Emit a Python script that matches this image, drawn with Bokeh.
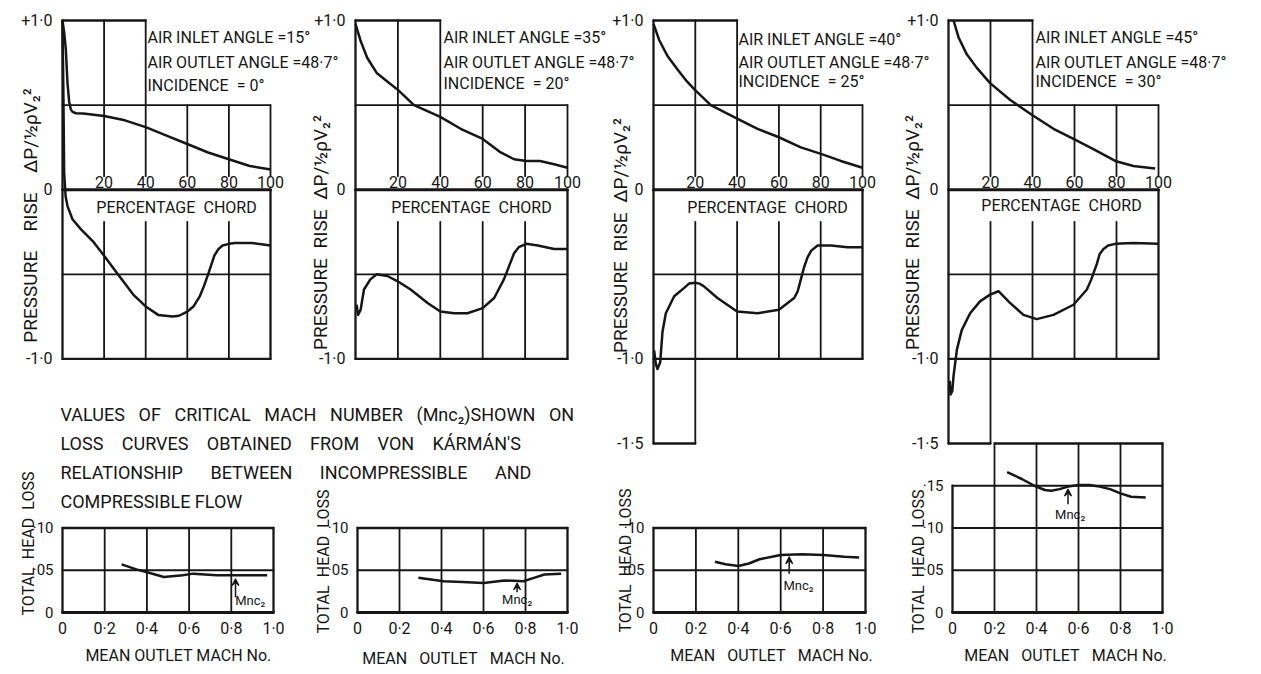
from math import pi
from bokeh.plotting import figure
from bokeh.models import Range1d, LinearAxis, FixedTicker, Label, Arrow, VeeHead
from bokeh.embed import file_html
from bokeh.resources import INLINE

# ---------------- data ----------------
inlet_angle = [15, 35, 40, 45]
outlet_angle = 48.7
incidence = [0, 20, 25, 30]

chord_ticks = [20, 40, 60, 80, 100]
pressure_ticks = [[1.0, 0.0, -1.0], [1.0, 0.0, -1.0],
                  [1.0, 0.0, -1.0, -1.5], [1.0, 0.0, -1.0, -1.5]]
pressure_labels = {1.0: "+1·0", 0.0: "0", -1.0: "-1·0", -1.5: "-1·5"}
mach_ticks = [0.0, 0.2, 0.4, 0.6, 0.8, 1.0]
mach_labels = {0.0: "0", 0.2: "0·2", 0.4: "0·4", 0.6: "0·6", 0.8: "0·8", 1.0: "1·0"}
loss_ticks = [[0.0, 0.05, 0.10], [0.0, 0.05, 0.10], [0.0, 0.05, 0.10],
              [0.0, 0.05, 0.10, 0.15]]
loss_top = [0.10, 0.10, 0.10, 0.20]
loss_labels = {0.0: "0", 0.05: "·05", 0.10: "·10", 0.15: "·15"}

# pressure distribution, upper branch (chord %, dP / 1/2 rho V2^2)
upper_x = [
    [0, 0.8, 1.6, 2.4, 3.2, 4.0, 4.8, 6.5, 10, 20, 30, 40, 50, 60, 70, 80, 90, 100],
    [0, 2.4, 5.5, 10, 15, 20, 27.6, 40, 49.6, 60, 68.5, 74.8, 80.6, 87, 93.7, 100],
    [0, 2.7, 6.7, 11.5, 16, 19.8, 27.4, 40, 49.8, 60, 70.5, 80.5, 89.6, 100],
    [2.4, 4.8, 8.7, 13.5, 19.8, 29.4, 40, 50, 59.5, 69, 79.4, 88, 98.4],
]
upper_y = [
    [1.0, 0.93, 0.83, 0.63, 0.52, 0.475, 0.46, 0.452, 0.45, 0.436, 0.41, 0.37, 0.32, 0.27, 0.22, 0.18, 0.14, 0.12],
    [0.98, 0.88, 0.78, 0.69, 0.64, 0.59, 0.50, 0.43, 0.36, 0.30, 0.22, 0.18, 0.17, 0.17, 0.15, 0.13],
    [0.98, 0.885, 0.79, 0.71, 0.64, 0.59, 0.50, 0.42, 0.36, 0.31, 0.25, 0.21, 0.17, 0.13],
    [1.0, 0.90, 0.80, 0.72, 0.63, 0.53, 0.44, 0.36, 0.30, 0.24, 0.17, 0.14, 0.125],
]
# pressure distribution, lower branch
lower_x = [
    [0, 0.4, 0.8, 1.5, 2.4, 4.8, 8.8, 15, 20, 26, 34, 40, 46, 53, 56, 60, 63, 66, 68, 70, 73, 75, 77, 80, 83, 91, 100],
    [0.5, 1.2, 2.4, 4, 7, 10, 15, 19.7, 26, 34, 40, 46.5, 52.8, 60, 65.4, 70, 72.5, 74.8, 77, 80.6, 86, 93.7, 100],
    [0.3, 1.1, 1.9, 3.2, 4.3, 5.9, 9.9, 14.7, 17, 19.8, 22, 24, 30.6, 40, 49.8, 60, 67.3, 69, 70.5, 72, 73.7, 75.5, 78.5, 85, 92.8, 100],
    [0.6, 1.0, 1.8, 2.4, 4, 6.3, 10.3, 15, 19.8, 23.8, 29.4, 35.7, 42, 50, 59.5, 65.9, 68, 70.6, 72, 73.8, 76, 79.4, 88, 100],
]
lower_y = [
    [1.0, 0.6, 0.1, -0.04, -0.097, -0.175, -0.233, -0.31, -0.39, -0.49, -0.62, -0.69, -0.74, -0.75, -0.745, -0.72, -0.69, -0.63, -0.57, -0.50, -0.39, -0.35, -0.33, -0.32, -0.315, -0.315, -0.33],
    [-0.68, -0.74, -0.71, -0.59, -0.53, -0.50, -0.51, -0.54, -0.59, -0.67, -0.72, -0.73, -0.73, -0.70, -0.64, -0.53, -0.45, -0.375, -0.34, -0.32, -0.33, -0.35, -0.35],
    [-0.95, -1.03, -1.06, -1.02, -0.84, -0.73, -0.63, -0.58, -0.555, -0.55, -0.555, -0.57, -0.64, -0.72, -0.73, -0.71, -0.64, -0.60, -0.53, -0.46, -0.40, -0.36, -0.33, -0.33, -0.34, -0.34],
    [-1.13, -1.21, -1.19, -1.10, -0.945, -0.83, -0.73, -0.66, -0.62, -0.60, -0.67, -0.74, -0.765, -0.74, -0.68, -0.59, -0.53, -0.44, -0.38, -0.35, -0.33, -0.32, -0.315, -0.32],
]
# total head loss vs mean outlet Mach number
loss_x = [
    [0.28, 0.35, 0.41, 0.48, 0.57, 0.62, 0.73, 0.85, 0.97],
    [0.29, 0.41, 0.50, 0.60, 0.70, 0.79, 0.84, 0.89, 0.97],
    [0.29, 0.34, 0.40, 0.45, 0.50, 0.60, 0.70, 0.80, 0.90, 0.97],
    [0.26, 0.33, 0.39, 0.44, 0.47, 0.51, 0.55, 0.60, 0.65, 0.70, 0.75, 0.80, 0.85, 0.92],
]
loss_y = [
    [0.057, 0.051, 0.047, 0.042, 0.044, 0.046, 0.044, 0.044, 0.044],
    [0.041, 0.037, 0.036, 0.035, 0.038, 0.037, 0.041, 0.045, 0.046],
    [0.060, 0.057, 0.055, 0.058, 0.063, 0.068, 0.069, 0.068, 0.066, 0.065],
    [0.166, 0.158, 0.150, 0.145, 0.144, 0.146, 0.149, 0.151, 0.151, 0.149, 0.146, 0.141, 0.137, 0.136],
]
# critical Mach number marks
mnc_x = [0.82, 0.76, 0.64, 0.55]
mnc_tail = [0.018, 0.024, 0.046, 0.128]
mnc_tip = [0.040, 0.035, 0.066, 0.146]

note_lines = [
    "VALUES OF CRITICAL MACH NUMBER (Mnc₂)SHOWN ON",
    "LOSS CURVES OBTAINED FROM VON KÁRMÁN'S",
    "RELATIONSHIP BETWEEN INCOMPRESSIBLE AND",
    "COMPRESSIBLE FLOW",
]

# ---------------- layout (page pixels) ----------------
W, H = 1260, 672
PX0, PX1, PY0, PY1 = 0, W, 0, H
pres_x_px = [(62, 270), (355, 567), (653, 862), (948, 1158)]   # chord 0 / 100
mach_x_px = [(62, 273), (357, 567), (653, 865), (952, 1162)]   # Mach 0 / 1.0
pres_y_px = (20, 443)    # +1.0 / -1.5
loss_y_px = (612, 443)   # 0 / 0.20
note_xy = [(147, 37, 62, 85), (443, 37, 62, 83), (738, 39, 62, 81), (1035, 37, 62, 81)]
ylab_p = [(30, 215), (320, 232), (620, 235), (912, 232)]
ylab_p_gap = ["\u2003", "\u2002", "\u2002", "\u2002"]
ylab_l = [(28, 543), (323, 561), (625, 560), (918, 561)]
xlab_c = [(176, 207), (471, 207), (767, 207), (1061, 205)]
xlab_m = [(178, 655), (463, 658), (771, 655), (1065, 655)]
xlab_m_gap = [" ", "\u2002 ", "\u2002 ", "\u2002 "]
mnc_lab = [(0.89, 0.014), (0.76, 0.015), (0.684, 0.032), (0.56, 0.116)]
note_gap = ["\u2002 ", "\u2003", "\u2003\u2002", " "]

INK = "#161616"
FONT = "Roboto"


def xrange_from(a0, a1, v0, v1):
    k = (v1 - v0) / (a1 - a0)
    return Range1d(start=v0 + (PX0 - a0) * k, end=v0 + (PX1 - a0) * k)


def yrange_from(a0, a1, v0, v1):
    k = (v1 - v0) / (a1 - a0)
    return Range1d(start=v0 + (PY1 - a0) * k, end=v0 + (PY0 - a0) * k)


p = figure(width=W, height=H, x_range=Range1d(PX0, PX1), y_range=Range1d(PY1, PY0),
           x_axis_type=None, y_axis_type=None, toolbar_location=None,
           output_backend="svg", min_border=0, title=None)
p.outline_line_color = None
p.background_fill_color = "white"
p.border_fill_color = "white"

p.extra_y_ranges = {
    "p": yrange_from(pres_y_px[0], pres_y_px[1], 1.0, -1.5),
    "l": yrange_from(loss_y_px[0], loss_y_px[1], 0.0, 0.20),
}
xr = {}
for k in range(4):
    xr[f"c{k}"] = xrange_from(pres_x_px[k][0], pres_x_px[k][1], 0.0, 100.0)
    xr[f"m{k}"] = xrange_from(mach_x_px[k][0], mach_x_px[k][1], 0.0, 1.0)
p.extra_x_ranges = xr


def segs(xname, yname, s, width):
    p.segment([a[0] for a in s], [a[1] for a in s], [a[2] for a in s], [a[3] for a in s],
              x_range_name=xname, y_range_name=yname, line_color=INK,
              line_width=width, line_cap="round")


def label(x, y, text, size, align="left", angle=0.0, xname="default", yname="default"):
    p.add_layout(Label(x=x, y=y, text=text, angle=angle, text_align=align,
                       text_baseline="middle", text_color=INK,
                       text_font=FONT, text_font_size=f"{size}px",
                       x_range_name=xname, y_range_name=yname))


def axis_style(ax, size):
    ax.axis_line_color = None
    ax.major_tick_line_color = None
    ax.minor_tick_line_color = None
    ax.major_label_text_font = FONT
    ax.major_label_text_font_size = f"{size}px"
    ax.major_label_text_color = INK
    return ax


for k in range(4):
    c, m = f"c{k}", f"m{k}"
    deep = pressure_ticks[k][-1]
    # ----- pressure panel frame and grid -----
    frame = [(0, 1.0, 0, deep), (0, 1.0, 40, 1.0), (100, 0.0, 100, -1.0), (0, -1.0, 100, -1.0)]
    grid = [(0, 0.5, 100, 0.5), (0, -0.5, 100, -0.5)]
    for t in chord_ticks:
        top = 1.0 if t <= 40 else 0.5
        grid.append((t, top, t, 0.08))
        if t < 100:
            grid.append((t, -0.19, t, -1.0))
    if deep < -1.0:
        frame += [(0, deep, 20, deep)]
        grid += [(20, -1.0, 20, deep)]
    segs(c, "p", frame, 2.3)
    segs(c, "p", grid, 1.8)
    segs(c, "p", [(0, 0, 100, 0)], 3.0)

    p.line(upper_x[k], upper_y[k], x_range_name=c, y_range_name="p",
           line_color=INK, line_width=2.5, line_join="round")
    p.line(lower_x[k], lower_y[k], x_range_name=c, y_range_name="p",
           line_color=INK, line_width=2.5, line_join="round")

    # pressure axes (tick labels)
    ay = LinearAxis(x_range_name=c, y_range_name="p", fixed_location=0,
                    ticker=FixedTicker(ticks=pressure_ticks[k]),
                    major_label_overrides={t: pressure_labels[t] for t in pressure_ticks[k]},
                    major_label_standoff=4)
    p.add_layout(axis_style(ay, 16), "left")
    ax = LinearAxis(x_range_name=c, y_range_name="p", fixed_location=0,
                    ticker=FixedTicker(ticks=chord_ticks), major_label_standoff=-4)
    p.add_layout(axis_style(ax, 16), "above")

    # ----- loss panel -----
    ltop = loss_top[k]
    lgrid = [(0, t, 1.0, t) for t in loss_ticks[k][1:] if t < ltop]
    lgrid += [(t, 0, t, ltop) for t in mach_ticks[1:-1]]
    if ltop > 0.15:
        lframe = [(0, 0, 0, 0.15), (0.2, ltop, 1.0, ltop), (1.0, 0, 1.0, ltop)]
    else:
        lframe = [(0, 0, 0, ltop), (0, ltop, 1.0, ltop), (1.0, 0, 1.0, ltop)]
    segs(m, "l", lframe, 2.3)
    segs(m, "l", lgrid, 1.8)
    segs(m, "l", [(0, 0, 1.0, 0)], 2.8)

    p.line(loss_x[k], loss_y[k], x_range_name=m, y_range_name="l",
           line_color=INK, line_width=2.5, line_join="round")
    p.add_layout(Arrow(end=VeeHead(size=7, line_color=INK, fill_color=INK, line_width=1.2),
                       x_start=mnc_x[k], y_start=mnc_tail[k], x_end=mnc_x[k], y_end=mnc_tip[k],
                       x_range_name=m, y_range_name="l", line_color=INK, line_width=1.5))
    label(mnc_lab[k][0], mnc_lab[k][1], "Mnc₂", 13, "center", xname=m, yname="l")

    aly = LinearAxis(x_range_name=m, y_range_name="l", fixed_location=0,
                     ticker=FixedTicker(ticks=loss_ticks[k]),
                     major_label_overrides={t: loss_labels[t] for t in loss_ticks[k]},
                     major_label_standoff=3)
    p.add_layout(axis_style(aly, 15), "left")
    alx = LinearAxis(x_range_name=m, y_range_name="l", fixed_location=0,
                     ticker=FixedTicker(ticks=mach_ticks),
                     major_label_overrides=dict(mach_labels), major_label_standoff=0)
    p.add_layout(axis_style(alx, 16), "below")

    # ----- texts -----
    nx, ny1, ny2, ny3 = note_xy[k]
    label(nx, ny1, f"AIR INLET ANGLE ={inlet_angle[k]}°", 16)
    label(nx, ny2, f"AIR OUTLET ANGLE ={outlet_angle:.1f}°".replace(".", "·"), 16)
    label(nx, ny3, f"INCIDENCE\u2002= {incidence[k]}°", 16)
    g = ylab_p_gap[k]
    label(ylab_p[k][0], ylab_p[k][1], f"PRESSURE{g}RISE{g}ΔP/½ρV₂²", 19, "center", angle=pi / 2)
    label(ylab_l[k][0], ylab_l[k][1], "TOTAL\u2002HEAD\u2002LOSS", 16, "center", angle=pi / 2)
    label(xlab_c[k][0], xlab_c[k][1], "PERCENTAGE\u2002CHORD", 16, "center")
    label(xlab_m[k][0], xlab_m[k][1], "MEAN OUTLET MACH No.".replace(" ", xlab_m_gap[k], 2), 16, "center")

for i, line in enumerate(note_lines):
    label(60, 414 + 29 * i, line.replace(" ", note_gap[i]), 18)

open("out.html", "w").write(file_html(p, INLINE))
